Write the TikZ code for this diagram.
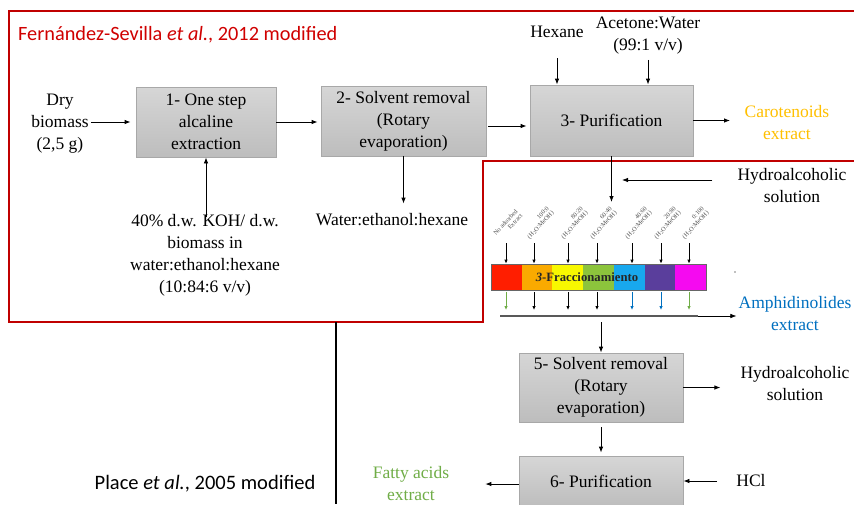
\documentclass[tikz,border=0pt]{standalone}
\usepackage{fontspec}
\setmainfont{Liberation Serif}
\newfontfamily\calib{Carlito}
\usetikzlibrary{arrows.meta}
\definecolor{frame}{HTML}{C00000}
\definecolor{titred}{HTML}{D00000}
\definecolor{carot}{HTML}{FFC000}
\definecolor{amph}{HTML}{0070C0}
\definecolor{fatty}{HTML}{70AD47}
\definecolor{boxtop}{HTML}{D6D6D6}
\definecolor{boxbot}{HTML}{BDBDBD}
\definecolor{boxline}{HTML}{A8A8A8}
\definecolor{segA}{HTML}{FF1E00}
\definecolor{segB}{HTML}{FAAA00}
\definecolor{segC}{HTML}{F8F800}
\definecolor{segD}{HTML}{8CC43C}
\definecolor{segE}{HTML}{18A8EE}
\definecolor{segF}{HTML}{5A3E9C}
\definecolor{segG}{HTML}{F50AF0}
\newcommand\fs{\fontsize{17.5}{22}\selectfont}
\tikzset{
  arr/.style={-{Latex[length=6pt,width=4.5pt]}, line width=0.8pt},
  sarr/.style={-{Latex[length=4pt,width=3.5pt]}, line width=0.8pt},
  proc/.style={draw=boxline, line width=0.8pt, top color=boxtop, bottom color=boxbot, align=center, font=\fs, inner sep=0pt},
  txt/.style={align=center, font=\fs, inner sep=2pt},
  lab/.style={rotate=47, align=right, font=\fontsize{6.3}{6.6}\selectfont, text=black!70, inner sep=0.5pt, anchor=south west},
}
\begin{document}
\begin{tikzpicture}[x=1pt,y=-1pt]
\useasboundingbox (0,0) rectangle (854,504);
\fill[white] (0,0) rectangle (854,504);

% red frame
\draw[frame, line width=2pt] (870,11) -- (8.5,11) -- (8.5,322) -- (483,322) -- (483,160.5) -- (870,160.5);
\node[font=\calib\fontsize{20.3}{24}\selectfont, text=titred, anchor=west, inner sep=0pt] (title) at (18,35) {Fernández-Sevilla \textit{et al.}, 2012 modified};

% step 1
\node[proc, minimum width=140pt, minimum height=70pt] (b1) at (206,122) {1- One step\\alcaline\\extraction};
\node[txt] (dry) at (60,124) {Dry\\biomass\\(2,5 g)};
\draw[arr, shorten >=5pt] (dry.east |- b1) -- (b1.west);
\node[txt] (koh) at (205,255) {40\% d.w. KOH/ d.w.\\biomass in\\water:ethanol:hexane\\(10:84:6 v/v)};
\draw[arr, shorten <=-5pt] (koh.north -| b1.south) -- (b1.south);

% step 2
\node[proc, minimum width=165pt, minimum height=70pt] (b2) at (403.5,121) {2- Solvent removal\\(Rotary\\evaporation)};
\draw[arr, shorten >=3pt] (b1.east) -- (b1.east -| b2.west);
\node[txt] (wat) at (392,220) {Water:ethanol:hexane};
\draw[arr, shorten >=8pt] (b2.south) -- (b2.south |- wat.north);

% step 3
\node[proc, minimum width=163pt, minimum height=71pt] (b3) at (611.5,120.5) {3- Purification};
\draw[arr, shorten <=2pt, shorten >=3pt] ([yshift=-5pt]b2.east) -- ([yshift=-5pt]b2.east -| b3.west);
\node[txt, text=carot] (car) at (787,122.5) {Carotenoids\\extract};
\draw[arr, shorten >=12.5pt] (b3.east) -- (b3.east -| car.west);
\node[txt] (hex) at (557,32) {Hexane};
\draw[arr, shorten <=18pt] (hex.south) -- (hex.south |- b3.north);
\node[txt] (ace) at (648,35.5) {Acetone:Water\\(99:1 v/v)};
\draw[arr, shorten <=3.5pt] (ace.south) -- (ace.south |- b3.north);

% fractionation
\coordinate (fin) at (611.5,202);
\draw[arr] (b3.south) -- (fin);
\node[txt] (ha1) at (792,186) {Hydroalcoholic\\solution};
\coordinate (hin) at (622,180);
\draw[arr, shorten <=23pt] (ha1.west |- hin) -- (hin);

\foreach \c [count=\i] in {segA,segB,segC,segD,segE,segF,segG}
  \fill[fill=\c] ({491+(\i-1)*30.714},264) rectangle ++(30.714,26);
\node[draw=black!60, line width=0.8pt, minimum width=215pt, minimum height=26pt, inner sep=0pt] (bar) at (598.5,277) {};
\node[font=\bfseries\fontsize{12.7}{14}\selectfont, text=black!85] (frac) at (587,277.5) {\textit{3}-Fraccionamiento};

\draw[sarr] (506,243) -- (506,0 |- bar.north);
\node[lab] (l1) at (501,241) {No adsorbed\\Extract};
\foreach \x/\l in {534/100:0, 568/80:20, 597/60:40, 632/40:60, 661/20:80, 689/0:100}{
  \draw[sarr] (\x,243) -- (\x,0 |- bar.north);
  \node[lab] at ({\x-3},241) {\l\\(H\textsubscript{2}O:MeOH)};
}
\foreach \x/\c in {506/fatty,534/black,568/black,597/black,632/amph,661/amph,689/fatty}
  \draw[sarr,draw=\c,fill=\c] (\x,292) -- (\x,310);

\coordinate (cL) at (500,316);
\coordinate (cR) at (698,316);
\draw[black!65, line width=1.2pt] (cL) -- (cR);
\node[txt, text=amph] (amp) at (795,313.5) {Amphidinolides\\extract};
\draw[arr, line width=0.6pt] (cR) -- (cR -| amp.west);
\fill[black!50] (735,272) circle (0.8);

% step 5
\node[proc, minimum width=164pt, minimum height=69pt] (b5) at (601,387.5) {5- Solvent removal\\(Rotary\\evaporation)};
\draw[arr, shorten <=6pt] (b5.north |- cR) -- (b5.north);
\node[txt] (ha2) at (795,384) {Hydroalcoholic\\solution};
\draw[arr, shorten >=18pt] (b5.east) -- (b5.east -| ha2.west);

% step 6
\node[proc, minimum width=164pt, minimum height=50pt] (b6) at (601,481) {6- Purification};
\draw[arr, shorten <=5pt, shorten >=3pt] (b5.south) -- (b6.north);
\node[txt] (hcl) at (751,481) {HCl};
\draw[arr, shorten <=17pt] (hcl.west) -- (hcl.west -| b6.east);
\node[txt, text=fatty] (fat) at (411,484) {Fatty acids\\extract};
\draw[arr, shorten >=34pt] ([yshift=-3pt]b6.west) -- ([yshift=-3pt]b6.west -| fat.east);

% Place section
\draw[line width=1.5pt] (336,322) -- (336,504);
\node[font=\calib\fontsize{20.5}{24}\selectfont] (place) at (205,484) {Place \textit{et al.}, 2005 modified};
\end{tikzpicture}
\end{document}
